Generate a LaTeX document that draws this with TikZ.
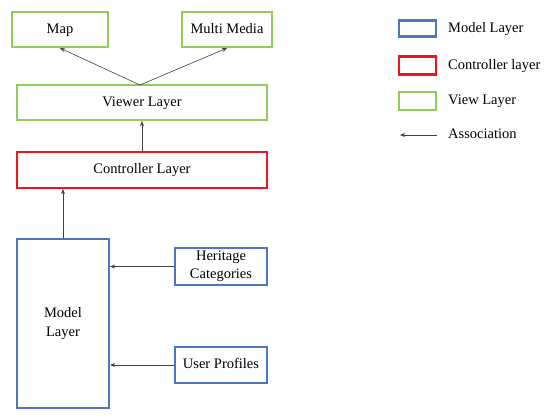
\documentclass[tikz,border=0pt]{standalone}
\usepackage{fontspec}
\setmainfont{Liberation Serif}
\usetikzlibrary{arrows.meta}
\definecolor{mblue}{RGB}{80,116,196}
\definecolor{mred}{RGB}{240,20,30}
\definecolor{mgreen}{RGB}{146,204,90}
\begin{document}
\begin{tikzpicture}[x=1pt,y=-1pt,
  box/.style={draw,line width=2.2pt,inner sep=0pt,font=\fontsize{14.5}{17}\selectfont,align=center},
  oneline/.style={text height=10pt,text depth=3pt},
  viewbox/.style={box,draw=mgreen},
  ctrlbox/.style={box,draw=mred},
  modelbox/.style={box,draw=mblue},
  assoc/.style={draw=black!75,line width=0.6pt,-{Stealth[length=5pt,width=4pt]}},
  legtext/.style={anchor=west,font=\fontsize{14.5}{17}\selectfont,inner sep=0pt,text height=10pt,text depth=3pt}]
\useasboundingbox (0,0) rectangle (550,418);
\node[viewbox,oneline,minimum width=96pt,minimum height=35pt] (map) at (60,29.5) {Map};
\node[viewbox,oneline,minimum width=90pt,minimum height=35pt] (mm) at (227,29.5) {Multi Media};
\node[viewbox,oneline,minimum width=250pt,minimum height=35pt] (viewer) at (142,102.5) {Viewer Layer};
\node[ctrlbox,oneline,minimum width=250pt,minimum height=36pt] (ctrl) at (142,170) {Controller Layer};
\node[modelbox,minimum width=92pt,minimum height=169pt,font=\fontsize{14.5}{19}\selectfont] (model) at (63,323.5) {Model\\Layer};
\node[modelbox,minimum width=92pt,minimum height=37pt,font=\fontsize{14.5}{18}\selectfont] (herit) at (221,266.5) {Heritage\\Categories};
\node[modelbox,oneline,minimum width=92pt,minimum height=36pt] (user) at (221,365) {User Profiles};
\coordinate (vtop) at (140,85);
\draw[assoc] (vtop) -- (map.south);
\draw[assoc] (vtop) -- (mm.south);
\draw[assoc] (ctrl.north) -- (viewer.south);
\draw[assoc] (model.north) -- (model.north |- ctrl.south);
\draw[assoc] (herit.west) -- (herit.west -| model.east);
\draw[assoc] (user.west) -- (user.west -| model.east);
% legend
\node[modelbox,minimum width=37pt,minimum height=16pt] (lm) at (417.5,28.5) {};
\node[ctrlbox,minimum width=37pt,minimum height=18pt] (lc) at (417.5,65.5) {};
\node[viewbox,minimum width=37pt,minimum height=18pt] (lv) at (417.5,101) {};
\coordinate (la1) at (437,135);
\coordinate (la2) at (400,135);
\draw[assoc] (la1) -- (la2);
\node[legtext] (tm) at (448,28.5) {Model Layer};
\node[legtext] (tc) at (448,65.5) {Controller layer};
\node[legtext] (tv) at (448,101) {View Layer};
\node[legtext] (ta) at (448,135) {Association};
\end{tikzpicture}
\end{document}
